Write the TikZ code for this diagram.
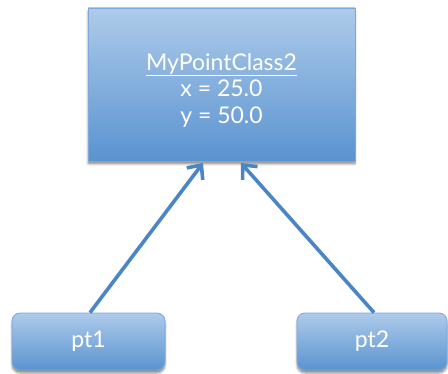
\documentclass[tikz,border=0pt]{standalone}
\usepackage{fontspec}
\setmainfont{Lato}
\usetikzlibrary{arrows.meta,shadows.blur}
\definecolor{boxtop}{HTML}{AECBEA}
\definecolor{boxbot}{HTML}{5A93D0}
\definecolor{boxedge}{HTML}{7CA8DA}
\definecolor{arrowblue}{HTML}{4A85C6}
\tikzset{
  x=1pt, y=1pt,
  objbox/.style={draw=boxedge, line width=0.8pt, top color=boxtop, bottom color=boxbot,
    text=white, font=\fontsize{23}{26.5}\selectfont, align=center, inner sep=0pt,
    blur shadow={shadow xshift=0pt, shadow yshift=-3pt, shadow blur steps=6, shadow opacity=45}},
  refbox/.style={objbox, rounded corners=8pt},
  refarrow/.style={draw=arrowblue, line width=3.6pt,
    -{Straight Barb[length=11pt, width=20pt, line width=3.6pt]}}
}
\begin{document}
\begin{tikzpicture}
\useasboundingbox (0,0) rectangle (448,373);
% the object on the heap (the strut on the first line sets the text a little lower)
\node[objbox, minimum width=267pt, minimum height=153pt] (obj) at (221.5,288.5)
  {\rule{0pt}{28pt}\underline{MyPointClass2}\\x = 25.0\\y = 50.0};
% the two reference variables
\node[refbox, minimum width=153pt, minimum height=57pt] (pt1) at (88.5,31.5) {pt1};
\node[refbox, minimum width=150pt, minimum height=57pt] (pt2) at (372,31.5) {pt2};
% both references point at the same object
\coordinate (tip1) at (203,210);
\coordinate (tip2) at (241,210);
\draw[refarrow] (pt1.north -| 90,0) -- (tip1);
\draw[refarrow] (pt2.north -| 374,0) -- (tip2);
\end{tikzpicture}
\end{document}
